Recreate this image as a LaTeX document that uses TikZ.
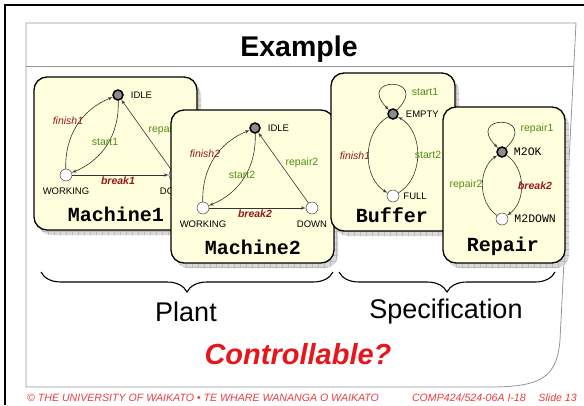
\documentclass[tikz,border=0pt]{standalone}
\usepackage{fontspec}
\setmainfont{Liberation Sans}
\newfontfamily\courierfont{Liberation Mono}
\usepackage{tikz}
\usetikzlibrary{shapes,arrows,decorations.pathreplacing,patterns.meta}

\definecolor{cream}{RGB}{255,255,222}
\definecolor{evgreen}{RGB}{80,140,20}
\definecolor{evred}{RGB}{150,25,25}
\definecolor{slidered}{RGB}{232,22,28}
\definecolor{footred}{RGB}{236,60,62}
\definecolor{panelgray}{RGB}{150,150,150}

\tikzstyle{automaton} = [rectangle, draw, line width=1.3pt, fill=cream,
    rounded corners=13pt, inner sep=0pt]
\tikzstyle{dropshade} = [rectangle, rounded corners=13pt, fill=gray!30, inner sep=0pt,
    postaction={pattern={Lines[distance=6pt,angle=0,line width=0.5pt]}, pattern color=gray!55},
    postaction={pattern={Lines[distance=6pt,angle=90,line width=0.5pt]}, pattern color=gray!55}]
\tikzstyle{initstate} = [circle, draw, line width=1.5pt, fill=gray!90,
    minimum size=10pt, inner sep=0pt]
\tikzstyle{state} = [circle, draw=black!75, line width=0.5pt, fill=white,
    minimum size=12pt, inner sep=0pt]
\tikzstyle{statename} = [font=\fontsize{9.5}{10}\selectfont, inner sep=0pt]
\tikzstyle{mstatename} = [font=\courierfont\fontsize{11.5}{12}\selectfont, inner sep=0pt]
\tikzstyle{ctrl} = [font=\fontsize{10.5}{11}\selectfont, text=evgreen, inner sep=0pt]
\tikzstyle{unctrl} = [font=\itshape\fontsize{10.5}{11}\selectfont, text=evred, inner sep=0pt]
\tikzstyle{unctrlb} = [font=\bfseries\itshape\fontsize{10.5}{11}\selectfont, text=evred, inner sep=0pt]
\tikzstyle{boxname} = [font=\courierfont\bfseries\fontsize{20}{22}\selectfont, inner sep=0pt]
\tikzstyle{trans} = [draw, black!80, line width=0.6pt, -latex']
\tikzstyle{bracetext} = [font=\fontsize{27}{30}\selectfont, inner sep=0pt]
\tikzstyle{footer} = [font=\itshape\fontsize{10.6}{12}\selectfont, text=footred, inner sep=0pt]

\begin{document}
\begin{tikzpicture}[x=1pt, y=1pt]
    \useasboundingbox (0,0) rectangle (584,-405);

    % Slide frame and panel
    \draw [line width=2.5pt] (584,-5) -- (5,-5) -- (5,-405);
    \draw [panelgray, line width=0.8pt] (26,-23) -- (576,-23) -- (560,-340)
        .. controls (557,-378) and (540,-386) .. (495,-387) -- (26,-387) -- cycle;
    \draw [panelgray, line width=0.8pt] (26,-66) -- (574,-66);
    \node [font=\bfseries\fontsize{28.5}{30}\selectfont, anchor=base, inner sep=0pt, at={(299,-56)}] (title) {Example};

    % Machine1
    \node [dropshade, minimum width=163pt, minimum height=153pt, at={(119.5,-158.5)}] (shade1) {};
    \node [automaton, minimum width=163pt, minimum height=153pt, at={(115.5,-153.5)}] (mach1) {};
    \node [initstate, at={(118,-95)}] (idle1) {};
    \node [state, at={(66,-175)}] (work1) {};
    \node [state, right of=work1, node distance=109pt] (down1) {};
    \node [statename, right=7pt, at={(idle1.east)}] (idle1l) {IDLE};
    \node [statename, below of=work1, node distance=16pt] (work1l) {WORKING};
    \node [statename, below of=down1, node distance=16pt] (down1l) {DOWN};
    \path [trans] (work1) to [bend left=35] (idle1);
    \path [trans] (idle1) to [bend left=35] (work1);
    \path [trans] (work1) -- (down1);
    \path [trans] (down1) -- (idle1);
    \node [unctrl, at={(68,-121)}] (finish1a) {finish1};
    \node [ctrl, at={(105,-142)}] (start1a) {start1};
    \node [ctrl, at={(165,-130)}] (repair1a) {repair1};
    \node [unctrlb, at={(118,-181)}] (break1a) {break1};
    \node [boxname, at={(116,-214)}] (mach1l) {Machine1};

    % Machine2
    \node [dropshade, minimum width=163pt, minimum height=153pt, at={(256.5,-191.5)}] (shade2) {};
    \node [automaton, minimum width=163pt, minimum height=153pt, at={(252.5,-186.5)}] (mach2) {};
    \node [initstate, at={(255,-128)}] (idle2) {};
    \node [state, at={(203,-208)}] (work2) {};
    \node [state, right of=work2, node distance=109pt] (down2) {};
    \node [statename, right=7pt, at={(idle2.east)}] (idle2l) {IDLE};
    \node [statename, below of=work2, node distance=16pt] (work2l) {WORKING};
    \node [statename, below of=down2, node distance=16pt] (down2l) {DOWN};
    \path [trans] (work2) to [bend left=35] (idle2);
    \path [trans] (idle2) to [bend left=35] (work2);
    \path [trans] (work2) -- (down2);
    \path [trans] (down2) -- (idle2);
    \node [unctrl, at={(205,-154)}] (finish2a) {finish2};
    \node [ctrl, at={(242,-175)}] (start2a) {start2};
    \node [ctrl, at={(302,-163)}] (repair2a) {repair2};
    \node [unctrlb, at={(255,-214)}] (break2a) {break2};
    \node [boxname, at={(253,-247)}] (mach2l) {Machine2};

    % Buffer
    \node [dropshade, minimum width=124pt, minimum height=158pt, at={(397,-157)}] (shadeb) {};
    \node [automaton, minimum width=124pt, minimum height=158pt, at={(393,-152)}] (buffer) {};
    \node [initstate, at={(393,-114)}] (empty) {};
    \node [state, below of=empty, node distance=82pt] (full) {};
    \node [statename, right=7pt, at={(empty.east)}] (emptyl) {EMPTY};
    \node [statename, right=4pt, at={(full.east)}] (fulll) {FULL};
    \path [trans] (empty) to [out=45, in=135, min distance=48pt] (empty);
    \path [trans] (empty) to [bend right=60] (full);
    \path [trans] (full) to [bend right=60] (empty);
    \node [ctrl, at={(425,-92)}] (start1b) {start1};
    \node [unctrl, at={(355,-156)}] (finish1b) {finish1};
    \node [ctrl, at={(428,-155)}] (start2b) {start2};
    \node [boxname, at={(392,-215)}] (bufferl) {Buffer};

    % Repair
    \node [dropshade, minimum width=122pt, minimum height=156pt, at={(508,-190)}] (shader) {};
    \node [automaton, minimum width=122pt, minimum height=156pt, at={(504,-185)}] (repair) {};
    \node [initstate, at={(502,-152)}] (m2ok) {};
    \node [state, below of=m2ok, node distance=67pt] (m2down) {};
    \node [mstatename, right=6pt, at={(m2ok.east)}] (m2okl) {M2OK};
    \node [mstatename, right=6pt, at={(m2down.east)}] (m2downl) {M2DOWN};
    \path [trans] (m2ok) to [out=45, in=135, min distance=48pt] (m2ok);
    \path [trans] (m2down) to [bend left=55] (m2ok);
    \path [trans] (m2ok) to [bend left=55] (m2down);
    \node [ctrl, at={(537,-129)}] (repair1r) {repair1};
    \node [ctrl, at={(466,-185)}] (repair2r) {repair2};
    \node [unctrlb, at={(535,-186)}] (break2r) {break2};
    \node [boxname, at={(503,-246)}] (repairl) {Repair};

    % Braces
    \coordinate (plantw) at (41,-272);
    \coordinate (plante) at (333,-272);
    \coordinate (specw) at (339,-272);
    \coordinate (spece) at (555,-272);
    \draw [decorate, decoration={brace, mirror, amplitude=20pt}, line width=1.1pt] (plantw) -- (plante);
    \draw [decorate, decoration={brace, mirror, amplitude=20pt}, line width=1.1pt] (specw) -- (spece);
    \node [bracetext, at={(186,-312)}] (plant) {Plant};
    \node [bracetext, at={(446,-312)}] (spec) {Specification};

    \node [font=\bfseries\itshape\fontsize{29}{32}\selectfont, text=slidered, at={(298,-354)}] (question) {Controllable?};

    % Footer
    \node [footer, anchor=west, at={(27,-398)}] (uni) {© THE UNIVERSITY OF WAIKATO \textbullet{} TE WHARE WANANGA O WAIKATO};
    \node [footer, anchor=east, at={(526,-398)}] (course) {COMP424/524-06A I-18};
    \node [footer, anchor=east, at={(577,-398)}] (slide) {Slide 13};

\end{tikzpicture}
\end{document}
